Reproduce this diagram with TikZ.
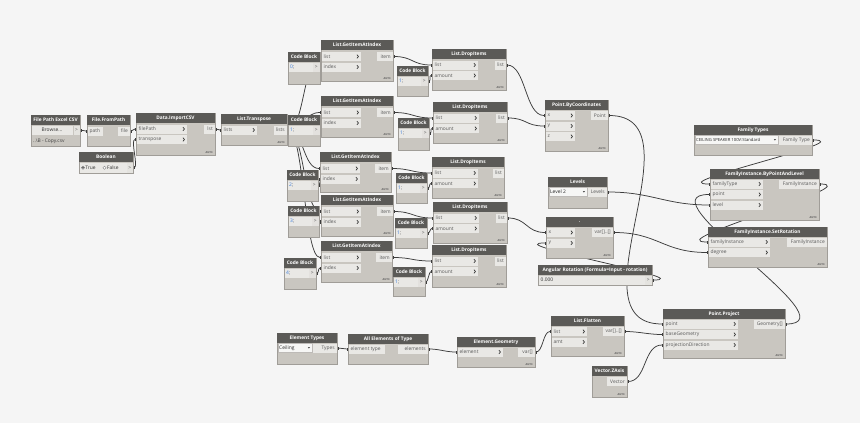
\documentclass[tikz,border=0pt]{standalone}
\usepackage{fontspec}
\setmainfont{Open Sans}
\usetikzlibrary{arrows.meta}
\definecolor{canvas}{HTML}{F5F5F5}
\definecolor{nhead}{HTML}{5B5A57}
\definecolor{nbody}{HTML}{C9C6C0}
\definecolor{nport}{HTML}{E9E8E5}
\definecolor{nedge}{HTML}{A09D98}
\definecolor{wirec}{HTML}{3C3C3C}
\definecolor{ptxt}{HTML}{5A5A5A}
\definecolor{cbblue}{HTML}{3B7DDD}
\pgfdeclarelayer{canvaslayer}
\pgfdeclarelayer{wirelayer}
\pgfsetlayers{canvaslayer,wirelayer,main}
\tikzset{
  htext/.style={text=white,font=\fontsize{4.8}{5}\selectfont\bfseries,inner sep=0pt},
  ptext/.style={text=ptxt,font=\fontsize{4.9}{5.2}\selectfont,inner sep=0pt},
  autotext/.style={text=ptxt,font=\fontsize{2.6}{3}\selectfont\bfseries,inner sep=0pt,anchor=south east},
  wire/.style={draw=wirec,line width=0.75pt,arrows={Rectangle[length=1.4pt,width=2.6pt]-Rectangle[length=1.4pt,width=2.6pt]}},
  chev/.style={draw=black!80,line width=0.7pt},
}
% #1 name, #2 x1, #3 y1, #4 x2, #5 y2, #6 title
\newcommand\DNode[6]{%
  \path[fill=nbody,draw=nedge,line width=0.5pt] (#2,#3) rectangle (#4,#5);
  \fill[nhead] (#2,#3) rectangle (#4,#3+10);
  \node[htext] (#1) at ({(#2+#4)/2},#3+5) {#6};
}
% #1 name, #2 x1, #3 yc, #4 width, #5 label, #6 chevron
\newcommand\InPort[6]{%
  \fill[nport] (#2+0.5,#3-4.5) rectangle (#2+#4,#3+4.5);
  \node[ptext,anchor=west] (#1-lab) at (#2+2.5,#3) {#5};
  \ifnum#6=1 \draw[chev] (#2+#4-4,#3-1.8) -- (#2+#4-2.6,#3) -- (#2+#4-4,#3+1.8);\fi
  \coordinate (#1) at (#2,#3);
}
% #1 name, #2 x2, #3 yc, #4 width, #5 label
\newcommand\OutPort[5]{%
  \fill[nport] (#2-#4,#3-4.5) rectangle (#2-0.5,#3+4.5);
  \node[ptext,anchor=east] (#1-lab) at (#2-2,#3) {#5};
  \coordinate (#1) at (#2,#3);
}
\newcommand\Auto[3]{\node[autotext] (#1-auto) at (#2-2,#3-1.5) {AUTO};}
% #1 name, #2 x1, #3 y1, #4 x2, #5 y2, #6 value
\newcommand\CBlock[6]{%
  \DNode{#1}{#2}{#3}{#4}{#5}{Code Block}
  \fill[nport] (#2+0.5,#3+10.5) rectangle (#4-7.5,#3+19.5);
  \fill[nport!80!nbody] (#4-7,#3+10.5) rectangle (#4-0.5,#3+19.5);
  \node[ptext,anchor=west] (#1-val) at (#2+2,#3+15) {\textcolor{cbblue}{#6};};
  \node[ptext] (#1-gt) at (#4-3.75,#3+15) {>};
  \coordinate (#1-o) at (#4,#3+15);
}
% #1 name, #2 x1, #3 x of box end, #4 yc, #5 label
\newcommand\DropRow[5]{%
  \path[fill=white!60!nport,draw=nedge!70,line width=0.3pt] (#2+0.7,#4-4.5) rectangle (#3-0.5,#4+4.5);
  \node[ptext,anchor=west,text=black!85] (#1-dd) at (#2+2,#4) {#5};
  \fill[ptxt] (#3-5.2,#4-0.8) -- (#3-3,#4-0.8) -- (#3-4.1,#4+0.6) -- cycle;
}
\newcommand\GIA[5]{%
  \DNode{#1}{#2}{#3}{#4}{#5}{List.GetItemAtIndex}
  \InPort{#1-list}{#2}{#3+16.5}{40}{list}{1}
  \InPort{#1-index}{#2}{#3+27}{40}{index}{1}
  \OutPort{#1-item}{#4}{#3+16.5}{16}{item}
  \Auto{#1}{#4}{#5}
}
\newcommand\DI[5]{%
  \DNode{#1}{#2}{#3}{#4}{#5}{List.DropItems}
  \InPort{#1-list}{#2}{#3+16}{46}{list}{1}
  \InPort{#1-amt}{#2}{#3+26.5}{46}{amount}{1}
  \OutPort{#1-lst}{#4}{#3+16}{11}{list}
  \Auto{#1}{#4}{#5}
}
\newcommand\Wire[3]{\draw[wire] (#1) .. controls +(#3,0) and +(-#3,0) .. (#2);}
\begin{document}
\begin{tikzpicture}[x=1pt,y=-1pt]
\useasboundingbox (0,0) rectangle (860,423);
\begin{pgfonlayer}{canvaslayer}
  \fill[canvas] (0,0) rectangle (860,423);
\end{pgfonlayer}

% File Path Excel CSV
\DNode{fpcsv}{31}{115}{80}{146}{File Path Excel CSV}
\fill[nport] (31.5,125.5) rectangle (73,135);
\node[ptext,text=black!80] (fpcsv-btn) at (52,130.2) {Browse...};
\fill[nport!85!nbody] (73.5,125.5) rectangle (79.5,135);
\node[ptext] (fpcsv-gt) at (76.5,130.2) {>};
\coordinate (fpcsv-o) at (80,130.2);
\node[ptext,anchor=west,text=black!75] (fpcsv-file) at (33,141) {..\textbackslash B - Copy.csv};

% File.FromPath
\DNode{fromp}{87}{115}{130}{146}{File.FromPath}
\InPort{fromp-path}{87}{131}{16}{path}{0}
\OutPort{fromp-file}{130}{131}{12}{file}

% Data.ImportCSV
\DNode{impcsv}{136}{113}{215}{155}{Data.ImportCSV}
\InPort{impcsv-fp}{136}{129}{51}{filePath}{1}
\InPort{impcsv-tr}{136}{139.5}{51}{transpose}{1}
\OutPort{impcsv-lst}{215}{129}{11}{lst}
\Auto{impcsv}{215}{155}

% Boolean
\DNode{bool}{79}{152}{133}{173}{Boolean}
\fill[nport] (79.5,163) rectangle (126.5,172.5);
\filldraw[fill=white,draw=black!60,line width=0.3pt] (83,167.7) circle (1.6);
\fill[black!75] (83,167.7) circle (0.8);
\node[ptext,anchor=west,text=black!80] (bool-true) at (85.2,167.7) {True};
\filldraw[fill=white,draw=black!50,line width=0.3pt] (104.5,167.7) circle (1.6);
\node[ptext,anchor=west,text=black!80] (bool-false) at (106.8,167.7) {False};
\fill[nport!85!nbody] (127,163) rectangle (132.5,172.5);
\node[ptext] (bool-gt) at (129.75,167.7) {>};
\coordinate (bool-o) at (133,167.7);

% List.Transpose
\DNode{transp}{221}{114}{287}{145}{List.Transpose}
\InPort{transp-in}{221}{130}{36}{lists}{1}
\OutPort{transp-o}{287}{130}{13}{lists}
\Auto{transp}{287}{145}

% Code blocks (indices)
\CBlock{cb0}{288}{52}{320}{84}{0}
\CBlock{cb1}{288}{115}{320}{146}{1}
\CBlock{cb2}{287}{170}{318}{201}{2}
\CBlock{cb3}{288}{206}{319}{237}{3}
\CBlock{cb4}{284}{258}{316}{289}{4}

% GetItemAtIndex
\GIA{gia1}{321}{40}{393}{81}
\GIA{gia2}{321}{96}{393}{137}
\GIA{gia3}{320}{152}{391}{192}
\GIA{gia4}{321}{195}{393}{236}
\GIA{gia5}{321}{241}{392}{282}

% Code blocks (amounts)
\CBlock{cbd1}{397}{66}{428}{96}{1}
\CBlock{cbd2}{398}{118}{429}{150}{1}
\CBlock{cbd3}{396}{173}{427}{203}{1}
\CBlock{cbd4}{395}{218}{427}{248}{1}
\CBlock{cbd5}{393}{267}{425}{296}{1}

% DropItems
\DI{di1}{432}{49}{506}{90}
\DI{di2}{433}{102}{507}{143}
\DI{di3}{432}{157}{504}{198}
\DI{di4}{433}{202}{507}{243}
\DI{di5}{432}{245}{506}{287}

% Point.ByCoordinates
\DNode{pbc}{545}{100}{608}{151}{Point.ByCoordinates}
\InPort{pbc-x}{545}{115.5}{30}{x}{1}
\InPort{pbc-y}{545}{126}{30}{y}{1}
\InPort{pbc-z}{545}{136.5}{30}{z}{1}
\OutPort{pbc-pt}{608}{115.5}{17}{Point}
\Auto{pbc}{608}{151}

% Levels
\DNode{levels}{548}{177}{607}{208}{Levels}
\DropRow{levels}{548}{588}{192}{Level 2}
\OutPort{levels-o}{607}{192}{19}{Levels}

% "." node
\DNode{dotn}{546}{217}{613}{258}{.}
\InPort{dotn-x}{546}{232.5}{29}{x}{1}
\InPort{dotn-y}{546}{243}{29}{y}{1}
\OutPort{dotn-o}{613}{232.5}{21}{var[]..[]}
\Auto{dotn}{613}{258}

% Angular Rotation
\DNode{angrot}{538}{265}{652}{285}{Angular Rotation (Formula=Input - rotation)}
\fill[nport] (538.5,275.5) rectangle (644.5,284.5);
\node[ptext,anchor=west,text=black!80] (angrot-val) at (540.5,280) {0.000};
\fill[nport!85!nbody] (645,275.5) rectangle (651.5,284.5);
\node[ptext] (angrot-gt) at (648.25,280) {>};
\coordinate (angrot-o) at (652,280);

% Family Types
\DNode{famt}{694}{125}{812}{155}{Family Types}
\DropRow{famt}{694}{779}{140}{\fontsize{4.2}{4.5}\selectfont CEILING SPEAKER 100V:Standard}
\OutPort{famt-o}{812}{140}{33}{Family Type}

% FamilyInstance.ByPointAndLevel
\DNode{fibpl}{710}{169}{819}{220}{FamilyInstance.ByPointAndLevel}
\InPort{fibpl-ft}{710}{184}{53}{familyType}{1}
\InPort{fibpl-pt}{710}{194.5}{53}{point}{1}
\InPort{fibpl-lv}{710}{205}{53}{level}{1}
\OutPort{fibpl-o}{819}{184}{40}{FamilyInstance}
\Auto{fibpl}{819}{220}

% FamilyInstance.SetRotation
\DNode{fisr}{708}{227}{827}{267}{FamilyInstance.SetRotation}
\InPort{fisr-fi}{708}{242}{62}{familyInstance}{1}
\InPort{fisr-deg}{708}{252.5}{62}{degree}{1}
\OutPort{fisr-o}{827}{242}{40}{FamilyInstance}
\Auto{fisr}{827}{267}

% Element Types
\DNode{elt}{277}{333}{337}{364}{Element Types}
\DropRow{elt}{277}{313}{348}{Ceiling}
\OutPort{elt-o}{337}{348}{24}{Types}

% All Elements of Type
\DNode{alle}{348}{334}{428}{364}{All Elements of Type}
\InPort{alle-in}{348}{349}{37}{element type}{0}
\OutPort{alle-o}{428}{349}{30}{elements}

% Element.Geometry
\DNode{elg}{457}{337}{535}{367}{Element.Geometry}
\InPort{elg-in}{457}{352}{46}{element}{1}
\OutPort{elg-o}{535}{352}{17}{var[]}
\Auto{elg}{535}{367}

% List.Flatten
\DNode{flat}{551}{316}{624}{356}{List.Flatten}
\InPort{flat-list}{551}{331.5}{36}{list}{1}
\InPort{flat-amt}{551}{342}{36}{amt}{1}
\OutPort{flat-o}{624}{331.5}{21}{var[]..[]}
\Auto{flat}{624}{356}

% Vector.ZAxis
\DNode{zax}{592}{366}{627}{397}{Vector.ZAxis}
\OutPort{zax-o}{627}{381.5}{20}{Vector}
\Auto{zax}{627}{397}

% Point.Project
\DNode{pproj}{663}{309}{785}{358}{Point.Project}
\InPort{pproj-pt}{663}{324}{75}{point}{1}
\InPort{pproj-bg}{663}{334.5}{75}{baseGeometry}{1}
\InPort{pproj-pd}{663}{345}{75}{projectionDirection}{1}
\OutPort{pproj-o}{785}{324}{31}{Geometry[]}
\Auto{pproj}{785}{358}

% Wires
\begin{pgfonlayer}{wirelayer}
\Wire{fpcsv-o}{fromp-path}{3}
\Wire{fromp-file}{impcsv-fp}{3}
\Wire{bool-o}{impcsv-tr}{6}
\Wire{impcsv-lst}{transp-in}{3}
\foreach \g in {gia1,gia2,gia3,gia4,gia5} {\Wire{transp-o}{\g-list}{17}}
\Wire{cb0-o}{gia1-index}{3}
\Wire{cb1-o}{gia2-index}{3}
\Wire{cb2-o}{gia3-index}{3}
\Wire{cb3-o}{gia4-index}{3}
\Wire{cb4-o}{gia5-index}{3}
\Wire{gia1-item}{di1-list}{20}
\Wire{gia2-item}{di2-list}{20}
\Wire{gia3-item}{di3-list}{20}
\Wire{gia4-item}{di4-list}{20}
\Wire{gia5-item}{di5-list}{20}
\Wire{cbd1-o}{di1-amt}{3}
\Wire{cbd2-o}{di2-amt}{3}
\Wire{cbd3-o}{di3-amt}{3}
\Wire{cbd4-o}{di4-amt}{3}
\Wire{cbd5-o}{di5-amt}{3}
\Wire{di1-lst}{pbc-x}{20}
\Wire{di2-lst}{pbc-y}{20}
\Wire{di4-lst}{dotn-x}{20}
\Wire{angrot-o}{dotn-y}{50}
\Wire{pbc-pt}{pproj-pt}{95}
\Wire{levels-o}{fibpl-lv}{45}
\Wire{dotn-o}{fisr-deg}{45}
\Wire{famt-o}{fibpl-ft}{50}
\Wire{fibpl-o}{fisr-fi}{50}
\Wire{pproj-o}{fibpl-pt}{70}
\Wire{flat-o}{pproj-bg}{15}
\Wire{zax-o}{pproj-pd}{20}
\Wire{elt-o}{alle-in}{4}
\Wire{alle-o}{elg-in}{12}
\Wire{elg-o}{flat-list}{8}
\end{pgfonlayer}
\end{tikzpicture}
\end{document}
